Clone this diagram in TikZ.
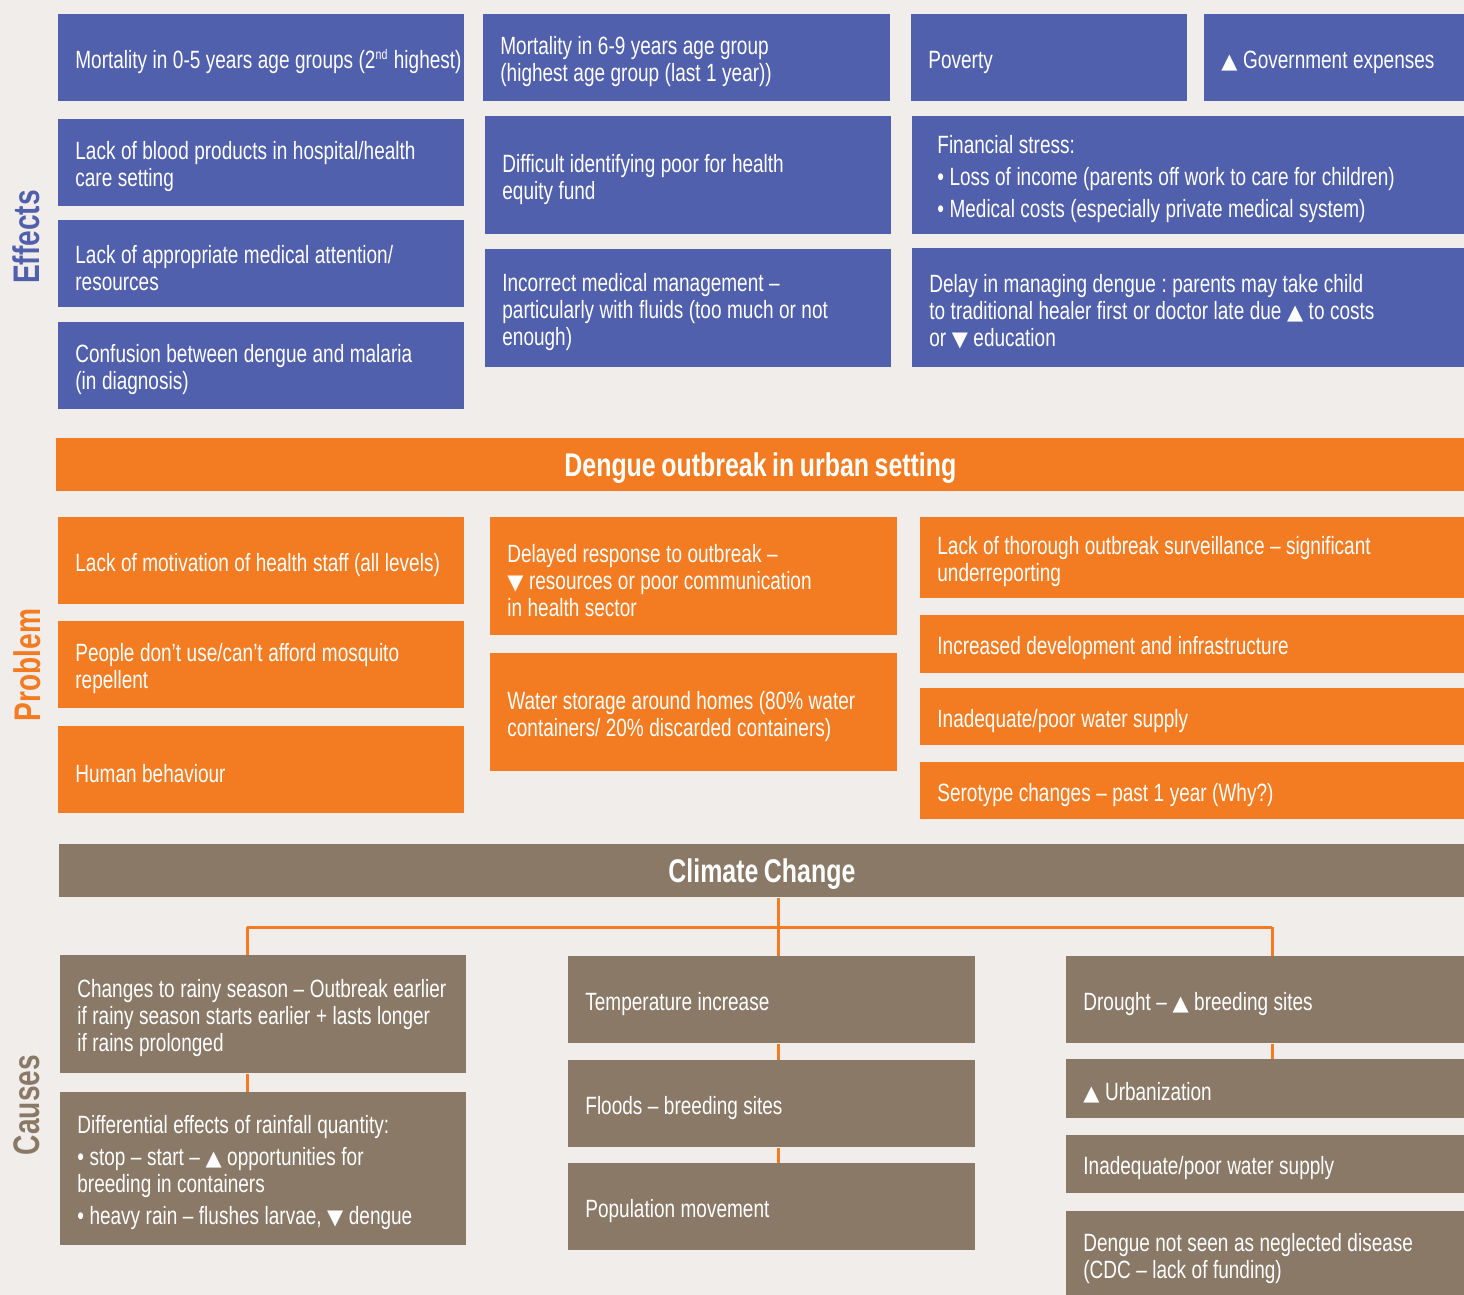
\documentclass[tikz,border=0pt]{standalone}
\usepackage{fontspec}
\setmainfont{Liberation Sans}[FakeStretch=0.76, WordSpace=0.8]
\newfontfamily\trifont{DejaVu Sans}

\definecolor{effblue}{HTML}{5160AC}
\definecolor{probora}{HTML}{F37C22}
\definecolor{causebrown}{HTML}{8A7967}
\definecolor{pagebg}{HTML}{F1EDEA}

\newcommand{\cellfont}{\fontsize{12.5}{13.5}\selectfont\hyphenpenalty=10000 }
\newcommand{\barfont}{\bfseries\fontsize{16.4}{18}\selectfont}
\newcommand{\sidefont}{\bfseries\fontsize{18.5}{20}\selectfont}
\newcommand{\uptri}{{\trifont\fontsize{10.5}{10}\selectfont ▲}}
\newcommand{\downtri}{{\trifont\fontsize{10.5}{10}\selectfont ▼}}

\tikzset{
  cell/.style 2 args={anchor=north west, text width={#1-17pt}, minimum height=#2,
    inner xsep=8.5pt, inner ysep=2pt, align=left, text=white, font=\cellfont,
    execute at begin node={\spaceskip=0.22em plus 0.1em\xspaceskip=0.22em\relax\rule{0pt}{12.8pt}}},
  eff/.style 2 args={cell={#1}{#2}, fill=effblue},
  prob/.style 2 args={cell={#1}{#2}, fill=probora},
  cause/.style 2 args={cell={#1}{#2}, fill=causebrown},
  bar/.style 2 args={anchor=north west, minimum width=#1, minimum height=26.5pt,
    inner sep=0pt, text depth=0pt, text=white, font=\barfont, fill=#2},
  side/.style={rotate=90, font=\sidefont},
  link/.style={draw=probora, line width=1.5pt},
}

\begin{document}
\begin{tikzpicture}[x=0.5pt, y=-0.5pt]
  \fill[pagebg] (0,0) rectangle (1464,1295);
  \useasboundingbox (0,0) rectangle (1464,1295);

  % effects
  \node[side, text=effblue] (effects) at (26,237) {Effects};
  \node[eff={203pt}{43.5pt}] (mort05) at (58,14) {\mbox{Mortality in 0-5 years age groups (2\textsuperscript{\fontsize{7}{7}\selectfont nd} highest)}};
  \node[eff={203.5pt}{43.5pt}] (mort69) at (483,14) {Mortality in 6-9 years age group\\(highest age group (last 1 year))};
  \node[eff={138pt}{43.5pt}] (poverty) at (911,14) {Poverty};
  \node[eff={130pt}{43.5pt}] (govexp) at (1204,14) {\uptri\ Government expenses};
  \node[eff={203pt}{43.5pt}] (blood) at (58,119) {Lack of blood products in hospital/health\\care setting};
  \node[eff={203pt}{43.5pt}] (attention) at (58,220) {Lack of appropriate medical attention/\\resources};
  \node[eff={203pt}{43.5pt}] (confusion) at (58,322) {Confusion between dengue and malaria\\(in diagnosis)};
  \node[eff={203pt}{59pt}] (equity) at (485,116) {Difficult identifying poor for health\\equity fund};
  \node[eff={203pt}{59pt}] (incorrect) at (485,249) {Incorrect medical management –\\particularly with fluids (too much or not\\enough)};
  \node[eff={276pt}{59pt}] (financial) at (912,116) {\hspace{4pt}Financial stress:\\[2.5pt]\hspace{4pt}• Loss of income (parents off work to care for children)\\[2.5pt]\hspace{4pt}• Medical costs (especially private medical system)};
  \node[eff={276pt}{59.5pt}] (delay) at (912,248) {Delay in managing dengue : parents may take child\\to traditional healer first or doctor late due \uptri\ to costs\\or \downtri\ education};

  \node[bar={704pt}{probora}] (outbreak) at (56,438) {Dengue outbreak in urban setting};

  % problem
  \node[side, text=probora] (problem) at (27,665) {Problem};
  \node[prob={203pt}{43.5pt}] (motivation) at (58,517) {Lack of motivation of health staff (all levels)};
  \node[prob={203pt}{43.5pt}] (repellent) at (58,621) {People don’t use/can’t afford mosquito\\repellent};
  \node[prob={203pt}{43.5pt}] (behaviour) at (58,726) {Human behaviour};
  \node[prob={203.5pt}{59pt}] (delayed) at (490,517) {Delayed response to outbreak –\\\downtri\ resources or poor communication\\in health sector};
  \node[prob={203.5pt}{59pt}] (storage) at (490,653) {Water storage around homes (80\% water\\containers/ 20\% discarded containers)};
  \node[prob={272pt}{40.5pt}] (surveillance) at (920,517) {Lack of thorough outbreak surveillance – significant\\underreporting};
  \node[prob={272pt}{29pt}] (development) at (920,615) {Increased development and infrastructure};
  \node[prob={272pt}{28.5pt}] (watersupply) at (920,688) {Inadequate/poor water supply};
  \node[prob={272pt}{28.5pt}] (serotype) at (920,762) {Serotype changes – past 1 year (Why?)};

  \node[bar={702.5pt}{causebrown}] (climate) at (59,844) {Climate Change};

  % causes
  \node[side, text=causebrown] (causes) at (27,1105) {Causes};
  \node[cause={203pt}{59pt}] (rainy) at (60,955) {Changes to rainy season – Outbreak earlier\\if rainy season starts earlier + lasts longer\\if rains prolonged};
  \node[cause={203pt}{76.5pt}] (rainfall) at (60,1092) {Differential effects of rainfall quantity:\\[2.5pt]• stop – start – \uptri\ opportunities for\\breeding in containers\\[2.5pt]• heavy rain – flushes larvae, \downtri\ dengue};
  \node[cause={203.5pt}{43.5pt}] (temp) at (568,956) {Temperature increase};
  \node[cause={203.5pt}{43.5pt}] (floods) at (568,1060) {Floods – breeding sites};
  \node[cause={203.5pt}{43.5pt}] (popmove) at (568,1163) {Population movement};
  \node[cause={199pt}{43.5pt}] (drought) at (1066,956) {Drought – \uptri\ breeding sites};
  \node[cause={199pt}{29.5pt}] (urban) at (1066,1059) {\uptri\ Urbanization};
  \node[cause={199pt}{29pt}] (poorsupply) at (1066,1135) {Inadequate/poor water supply};
  \node[cause={199pt}{43.5pt}] (neglected) at (1066,1211) {Dengue not seen as neglected disease\\(CDC – lack of funding)};

  \coordinate (bus) at (778,927);
  \coordinate (busL) at (247,927);
  \coordinate (busR) at (1272,927);
  \draw[link] (busL) -- (busR);
  \draw[link] (climate.south -| bus) -- (temp.north -| bus);
  \draw[link] (temp.south -| bus) -- (floods.north -| bus);
  \draw[link] (floods.south -| bus) -- (popmove.north -| bus);
  \draw[link] (busL) -- (rainy.north -| busL);
  \draw[link] (rainy.south -| busL) -- (rainfall.north -| busL);
  \draw[link] (busR) -- (drought.north -| busR);
  \draw[link] (drought.south -| busR) -- (urban.north -| busR);
\end{tikzpicture}
\end{document}
